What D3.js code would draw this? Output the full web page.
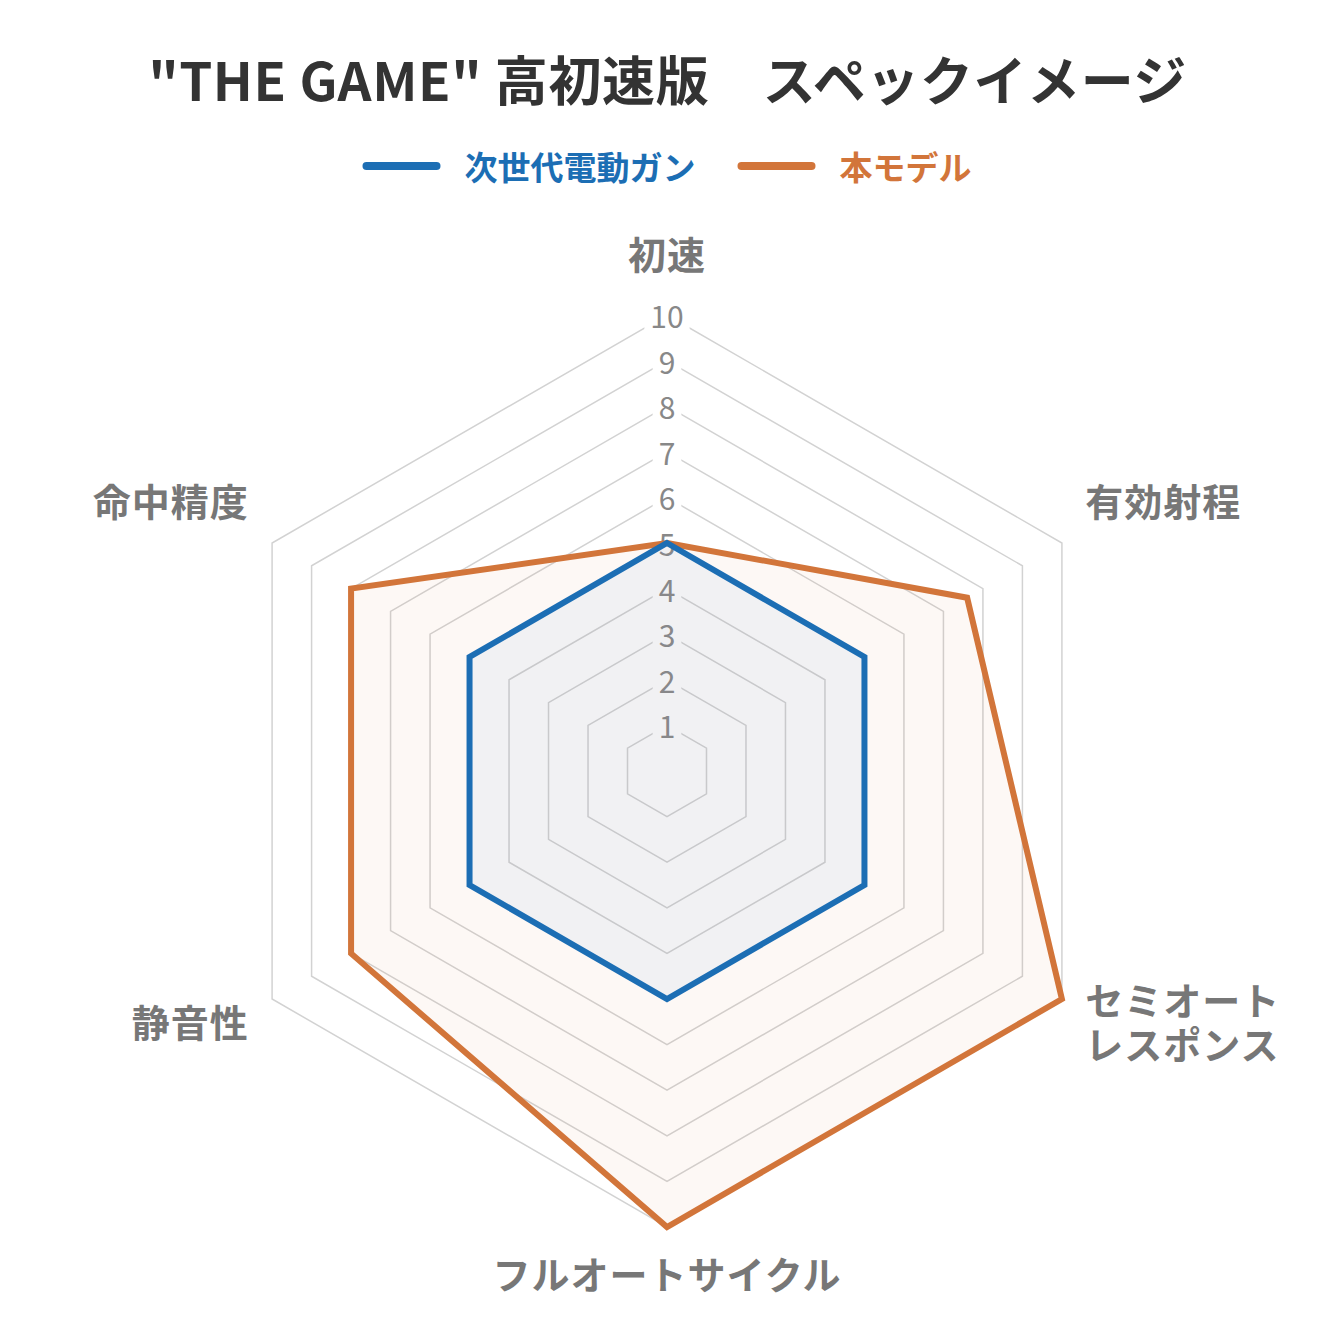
<!DOCTYPE html>
<html>
<head>
<meta charset="utf-8">
<script src="https://cdn.jsdelivr.net/npm/d3@7"></script>
<style>
  html, body { margin: 0; padding: 0; background: #fff; }
  svg { display: block; font-family: "Noto Sans CJK JP", "Noto Sans", sans-serif; }
</style>
</head>
<body>
<svg id="chart" width="1333" height="1333"></svg>
<script>
// axes, clockwise from the top
const axes = ['初速', '有効射程', ['セミオート', 'レスポンス'], 'フルオートサイクル', '静音性', '命中精度'];
const ticks = [1, 2, 3, 4, 5, 6, 7, 8, 9, 10];
const seriesNames = ['次世代電動ガン', '本モデル'];
const nextGenValues = [5, 5, 5, 5, 5, 5];
const thisModelValues = [5, 7.6, 10, 10, 8, 8];

const width = 1333, height = 1333;
const center = { x: 667, y: 771 };
const radius = 456;
const colors = { blue: '#1c6eb4', orange: '#d2753a' };

const svg = d3.select('#chart');
svg.append('rect').attr('width', width).attr('height', height).attr('fill', '#fff');

const r = d3.scaleLinear().domain([0, 10]).range([0, radius]);
const angle = d3.scaleLinear().domain([0, axes.length]).range([0, 2 * Math.PI]);

function point(i, v) {
    const a = angle(i);
    return [center.x + r(v) * Math.sin(a), center.y - r(v) * Math.cos(a)];
}

// title
svg.append('text')
    .attr('x', width / 2 + 1).attr('y', 78)
    .attr('text-anchor', 'middle').attr('dominant-baseline', 'central')
    .attr('font-size', 53).attr('font-weight', 700).attr('fill', '#333')
    .attr('letter-spacing', 0.6)
    .text('"THE GAME" 高初速版　スペックイメージ');

// legend
const legend = svg.append('g');
const legendColors = [colors.blue, colors.orange];
let lx = 0;
seriesNames.forEach((name, i) => {
    legend.append('line')
        .attr('x1', lx + 4).attr('x2', lx + 74).attr('y1', 166).attr('y2', 166)
        .attr('stroke', legendColors[i]).attr('stroke-width', 8).attr('stroke-linecap', 'round');
    const t = legend.append('text')
        .attr('x', lx + 102).attr('y', 166)
        .attr('dominant-baseline', 'central')
        .attr('font-size', 33).attr('font-weight', 700).attr('fill', legendColors[i])
        .text(name);
    lx += 102 + t.node().getComputedTextLength() + 42;
});
const lw = lx - 42;
legend.attr('transform', 'translate(' + (center.x - lw / 2) + ',0)');

// grid rings
const ringLine = d3.line();
svg.append('g').selectAll('path')
    .data(ticks)
    .enter()
    .append('path')
    .attr('d', (t) => ringLine(axes.map((_, i) => point(i, t))) + 'Z')
    .attr('fill', 'none').attr('stroke', '#d2d2d2').attr('stroke-width', 1.5);

// tick labels with white backdrop
const tickG = svg.append('g');
ticks.forEach((t) => {
    const y = center.y - r(t);
    const txt = tickG.append('text')
        .attr('x', center.x).attr('y', y)
        .attr('text-anchor', 'middle').attr('dominant-baseline', 'central')
        .attr('font-size', 30).attr('fill', '#888')
        .text(t);
    const w = txt.node().getComputedTextLength();
    tickG.insert('rect', 'text')
        .attr('x', center.x - w / 2 - 6).attr('y', y - 16)
        .attr('width', w + 12).attr('height', 32)
        .attr('fill', '#fff');
});

// series
const area = d3.line();
const series = [
    { values: thisModelValues, stroke: colors.orange, fill: 'rgba(210,117,58,0.05)' },
    { values: nextGenValues, stroke: colors.blue, fill: 'rgba(90,150,225,0.07)' }
];
svg.append('g').selectAll('path')
    .data(series)
    .enter()
    .append('path')
    .attr('d', (s) => area(s.values.map((v, i) => point(i, v))) + 'Z')
    .attr('fill', (s) => s.fill)
    .attr('stroke', (s) => s.stroke)
    .attr('stroke-width', 6)
    .attr('stroke-linejoin', 'miter');

// axis labels
const pad = 27;
const labelG = svg.append('g');
axes.forEach((label, i) => {
    const [px, py] = point(i, 10 + pad / r(1));
    const s = Math.sin(angle(i)), c = Math.cos(angle(i));
    const anchor = Math.abs(s) < 0.01 ? 'middle' : (s > 0 ? 'start' : 'end');
    let cy;
    if (c > 0.99) cy = py - 36;
    else if (c < -0.99) cy = py + 18;
    else if (c > 0) cy = py - 30;
    else cy = py + 8;
    const lines = Array.isArray(label) ? label : [label];
    const lh = 44;
    const text = labelG.append('text')
        .attr('text-anchor', anchor)
        .attr('font-size', 38).attr('font-weight', 700).attr('fill', '#777')
        .attr('letter-spacing', 1);
    lines.forEach((ln, j) => {
        text.append('tspan')
            .attr('x', px)
            .attr('y', cy + (j - (lines.length - 1) / 2) * lh)
            .attr('dominant-baseline', 'central')
            .text(ln);
    });
});
</script>
</body>
</html>
